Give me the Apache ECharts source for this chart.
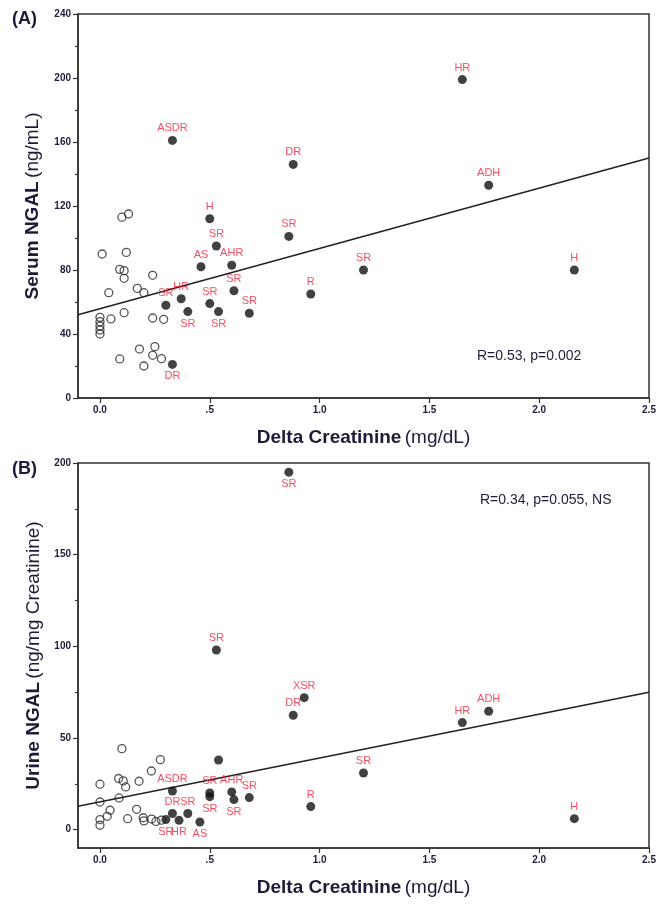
<!DOCTYPE html>
<html>
<head>
<meta charset="utf-8">
<script src="https://cdn.jsdelivr.net/npm/echarts@6/dist/echarts.min.js"></script>
<style>
  html, body { margin: 0; padding: 0; background: #ffffff; }
  #chart { width: 663px; height: 907px; }
</style>
</head>
<body>
<div id="chart"></div>
<script>
// Shared x axis ticks (delta creatinine, mg/dL)
const xTicks = [0, 0.5, 1.0, 1.5, 2.0, 2.5];
const xTickLabels = ['0.0', '.5', '1.0', '1.5', '2.0', '2.5'];

// Panel A: serum NGAL (ng/mL)
const serumTicks = [0, 40, 80, 120, 160, 200, 240];
const serumCtrlX = [0.01, 0.12, 0.09, 0.11, 0.11, 0.24, 0.04, 0.17, 0.20, 0.11, 0.00, 0.00, 0.00, 0.00, 0.00, 0.05, 0.24, 0.29, 0.18, 0.25, 0.24, 0.28, 0.09, 0.20, 0.10, 0.13];
const serumCtrlY = [90, 91, 80.4, 79.6, 74.8, 76.7, 65.8, 68.5, 65.8, 53.3, 50.4, 47.7, 45, 42.5, 40, 49.4, 50, 49.2, 30.6, 32.1, 26.7, 24.6, 24.4, 20, 113, 115];
const serumCaseNames = ['ASDR', 'DR', 'H', 'HR', 'ADH', 'SR', 'H', 'R', 'SR', 'SR', 'AS', 'AHR', 'SR', 'HR', 'SR', 'SR', 'SR', 'SR', 'SR', 'DR'];
const serumCaseX = [0.33, 0.88, 0.50, 1.65, 1.77, 1.20, 2.16, 0.96, 0.86, 0.53, 0.46, 0.60, 0.61, 0.37, 0.30, 0.50, 0.40, 0.54, 0.68, 0.33];
const serumCaseY = [161, 146, 112, 199, 133, 80, 80, 65, 101, 95, 82, 83, 67, 62, 58, 59, 54, 54, 53, 21];
const serumLabelBelow = [16, 17, 19];
const serumFitX = [-0.1, 2.5];
const serumFitY = [52, 150];
const serumStat = 'R=0.53, p=0.002';

// Panel B: urine NGAL (ng/mg creatinine)
const urineTicks = [0, 50, 100, 150, 200];
const urineMinorTicks = [25, 75, 125, 175];
const urineCtrlX = [0.10, 0.275, 0.234, 0.00, 0.085, 0.106, 0.117, 0.178, 0.00, 0.087, 0.046, 0.167, 0.033, 0.126, 0.00, 0.00, 0.197, 0.20, 0.235, 0.255, 0.28];
const urineCtrlY = [44.2, 38.2, 32, 24.8, 27.9, 26.6, 23.3, 26.4, 15.1, 17.3, 10.6, 11.1, 7.3, 6, 5.5, 2.4, 6.5, 4.8, 5.8, 4.5, 5.2];
const urineCaseNames = ['SR', 'SR', 'XSR', 'DR', 'HR', 'ADH', 'SR', 'R', 'H', '', 'ASDR', 'SR', 'SR', 'AHR', 'SR', 'SR', 'DR', 'SR', 'SR', 'HR', 'AS'];
const urineCaseX = [0.86, 0.53, 0.93, 0.88, 1.65, 1.77, 1.20, 0.96, 2.16, 0.54, 0.33, 0.50, 0.50, 0.60, 0.61, 0.68, 0.33, 0.40, 0.30, 0.36, 0.455];
const urineCaseY = [195, 98, 72, 62.4, 58.4, 64.6, 30.9, 12.6, 6, 38, 21.1, 20, 18, 20.6, 16.4, 17.5, 8.8, 8.8, 5.5, 5.1, 4.2];
const urineLabelBelow = [0, 12, 14, 18, 19, 20];
const urineFitX = [-0.1, 2.5];
const urineFitY = [12.8, 75];
const urineStat = 'R=0.34, p=0.055, NS';

const ink = '#1c1c3a';
const axisInk = '#333333';
const caseRed = '#f5203a';
const sans = '"Liberation Sans", Arial, sans-serif';

const titleRich = {
  b: { fontFamily: sans, fontWeight: 'bold', fontSize: 19, color: ink },
  n: { fontFamily: sans, fontWeight: 'normal', fontSize: 19, color: ink }
};

function zip(xs, ys) { return xs.map((x, i) => [x, ys[i]]); }

function caseData(names, xs, ys, below) {
  return names.map((n, i) => {
    const item = { name: n, value: [xs[i], ys[i]] };
    if (below.indexOf(i) >= 0) item.label = { position: 'bottom' };
    return item;
  });
}

function xAxisFor(gridIndex) {
  return {
    type: 'value', gridIndex: gridIndex, min: -0.1, max: 2.5,
    axisLine: { show: true, onZero: false, lineStyle: { color: axisInk, width: 1.5 } },
    axisTick: { show: true, length: 5, customValues: xTicks, lineStyle: { color: axisInk, width: 1.2 } },
    axisLabel: {
      customValues: xTicks,
      formatter: function (v) {
        const k = xTicks.findIndex(t => Math.abs(t - v) < 1e-6);
        return k >= 0 ? xTickLabels[k] : '';
      },
      color: ink, fontSize: 10, fontWeight: 'bold', fontFamily: sans, margin: 7
    },
    splitLine: { show: false },
    name: '{b|Delta Creatinine} {n|(mg/dL)}',
    nameLocation: 'middle', nameGap: 30,
    nameTextStyle: { rich: titleRich }
  };
}

const tickLabelStyle = { color: ink, fontSize: 10, fontWeight: 'bold', fontFamily: sans, margin: 7 };

const option = {
  animation: false,
  backgroundColor: '#ffffff',
  grid: [
    { left: 78, top: 14, width: 571, height: 384, show: true, borderColor: axisInk, borderWidth: 1.5, containLabel: false },
    { left: 78, top: 463, width: 571, height: 385, show: true, borderColor: axisInk, borderWidth: 1.5, containLabel: false }
  ],
  xAxis: [xAxisFor(0), xAxisFor(1)],
  yAxis: [
    {
      type: 'value', gridIndex: 0, min: 0, max: 240, interval: 40,
      axisLine: { show: true, onZero: false, lineStyle: { color: axisInk, width: 1.5 } },
      axisTick: { show: true, length: 5, lineStyle: { color: axisInk, width: 1.2 } },
      minorTick: { show: true, splitNumber: 2, length: 3, lineStyle: { color: axisInk, width: 1.2 } },
      axisLabel: Object.assign({ customValues: serumTicks }, tickLabelStyle),
      splitLine: { show: false },
      name: '{b|Serum NGAL} {n|(ng/mL)}',
      nameLocation: 'middle', nameRotate: 90, nameGap: 36,
      nameTextStyle: { rich: titleRich }
    },
    {
      type: 'value', gridIndex: 1, min: -10, max: 200,
      axisLine: { show: true, onZero: false, lineStyle: { color: axisInk, width: 1.5 } },
      axisTick: { show: true, length: 5, customValues: urineTicks, lineStyle: { color: axisInk, width: 1.2 } },
      axisLabel: Object.assign({ customValues: urineTicks }, tickLabelStyle),
      splitLine: { show: false },
      name: '{b|Urine NGAL} {n|(ng/mg Creatinine)}',
      nameLocation: 'middle', nameRotate: 90, nameGap: 27,
      nameTextStyle: { rich: titleRich }
    },
    {
      // short minor ticks between the labelled urine ticks
      type: 'value', gridIndex: 1, min: -10, max: 200, position: 'left',
      axisLine: { show: false, onZero: false },
      axisTick: { show: true, length: 3, customValues: urineMinorTicks, lineStyle: { color: axisInk, width: 1.2 } },
      axisLabel: { show: false },
      splitLine: { show: false }
    }
  ],
  graphic: [
    { type: 'text', left: 12, top: 10, style: { text: '(A)', fontFamily: sans, fontSize: 18, fontWeight: 'bold', fill: ink } },
    { type: 'text', left: 12, top: 460, style: { text: '(B)', fontFamily: sans, fontSize: 18, fontWeight: 'bold', fill: ink } },
    { type: 'text', left: 477, top: 349, style: { text: serumStat, fontFamily: sans, fontSize: 14, fill: ink } },
    { type: 'text', left: 480, top: 493, style: { text: urineStat, fontFamily: sans, fontSize: 14, fill: ink } }
  ],
  series: [
    {
      type: 'line', xAxisIndex: 0, yAxisIndex: 0, data: zip(serumFitX, serumFitY),
      symbol: 'none', silent: true, lineStyle: { color: '#222', width: 1.5 }, z: 3
    },
    {
      type: 'scatter', xAxisIndex: 0, yAxisIndex: 0, data: zip(serumCtrlX, serumCtrlY),
      symbol: 'circle', symbolSize: 8,
      itemStyle: { color: 'rgba(0,0,0,0)', borderColor: '#2a2a2a', borderWidth: 1.3 }, z: 4
    },
    {
      type: 'scatter', xAxisIndex: 0, yAxisIndex: 0,
      data: caseData(serumCaseNames, serumCaseX, serumCaseY, serumLabelBelow),
      symbol: 'circle', symbolSize: 9, itemStyle: { color: '#111111' }, z: 5,
      label: { show: true, formatter: '{b}', position: 'top', distance: 2, color: caseRed, fontSize: 11, fontFamily: sans }
    },
    {
      type: 'line', xAxisIndex: 1, yAxisIndex: 1, data: zip(urineFitX, urineFitY),
      symbol: 'none', silent: true, lineStyle: { color: '#222', width: 1.5 }, z: 3
    },
    {
      type: 'scatter', xAxisIndex: 1, yAxisIndex: 1, data: zip(urineCtrlX, urineCtrlY),
      symbol: 'circle', symbolSize: 8,
      itemStyle: { color: 'rgba(0,0,0,0)', borderColor: '#2a2a2a', borderWidth: 1.3 }, z: 4
    },
    {
      type: 'scatter', xAxisIndex: 1, yAxisIndex: 1,
      data: caseData(urineCaseNames, urineCaseX, urineCaseY, urineLabelBelow),
      symbol: 'circle', symbolSize: 9, itemStyle: { color: '#111111' }, z: 5,
      label: { show: true, formatter: '{b}', position: 'top', distance: 2, color: caseRed, fontSize: 11, fontFamily: sans }
    }
  ]
};

const chart = echarts.init(document.getElementById('chart'), null, { renderer: 'canvas' });
chart.setOption(option);
</script>
</body>
</html>
